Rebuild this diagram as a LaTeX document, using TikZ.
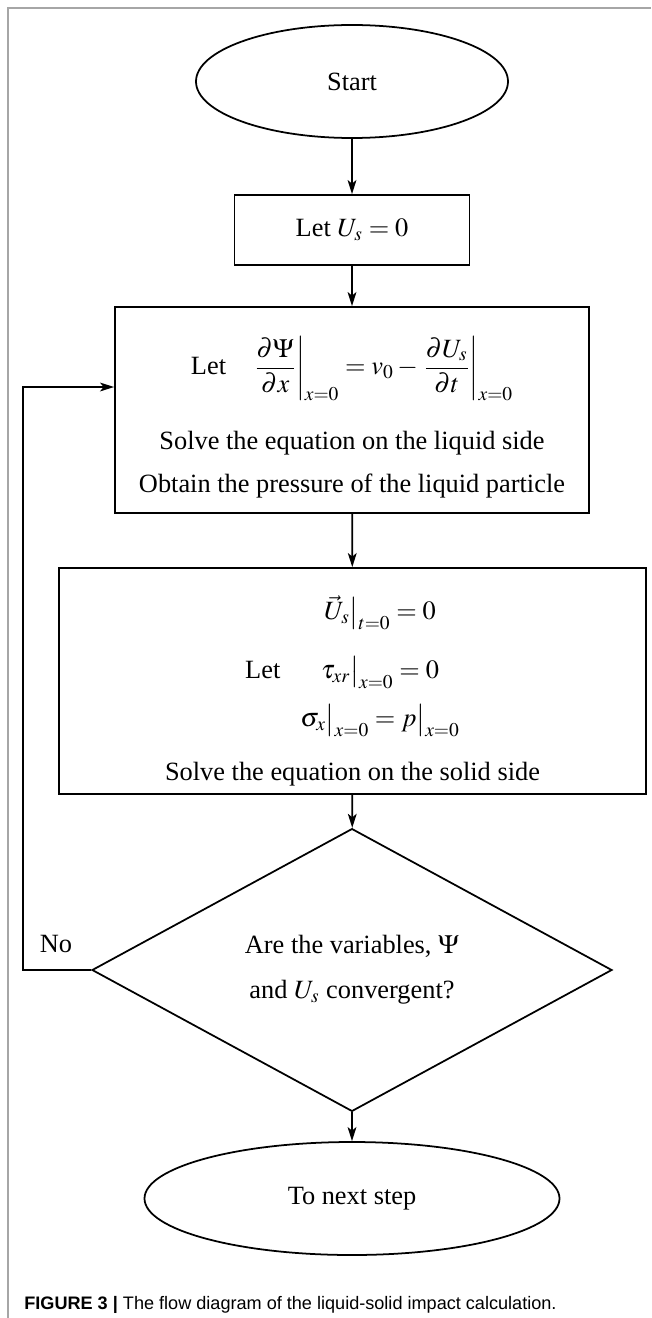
\documentclass[tikz,border=0pt]{standalone}
\usepackage{amsmath}
\usepackage{mathptmx}
\usepackage[no-math]{fontspec}
\setmainfont{Liberation Serif}
\newfontfamily\capfont{Liberation Sans}
\usepackage{tikz}
\usetikzlibrary{shapes.geometric, arrows.meta, positioning, calc}

\begin{document}
\begin{tikzpicture}[
            terminal/.style={ellipse, draw=black, line width=1pt, inner sep=0pt},
            process/.style={rectangle, draw=black, line width=1pt, align=center, inner sep=0pt},
            decision/.style={diamond, draw=black, line width=1pt, align=center, inner sep=0pt},
            flow/.style={->, line width=1pt},
            >={Stealth[length=8pt, width=5pt, inset=2pt]},
            font=\fontsize{15}{24.4}\selectfont
        ]
        \useasboundingbox (0,0) rectangle (13.02,-26.36);
        % frame of the figure
        \draw[gray!70, line width=0.6pt] (0.16,-26.36) -- (0.16,-0.16) -- (13.02,-0.16);

        % Start and first step
        \node[terminal, minimum width=6.24cm, minimum height=2.26cm] (start) at (7.04,-1.63) {Start};
        \node[process, minimum width=4.7cm, minimum height=1.4cm] (letUs) at (7.04,-4.6) {Let $U_s = 0$};

        % Liquid side
        \node[process, minimum width=9.48cm, minimum height=4.12cm] (liquid) at (7.04,-8.2)
            {\rule{0pt}{30pt}Let\quad$\left.\dfrac{\partial\Psi}{\partial x}\right|_{x=0} = v_0 - \left.\dfrac{\partial U_s}{\partial t}\right|_{x=0}$\\[16pt]
             Solve the equation on the liquid side\\
             Obtain the pressure of the liquid particle};

        % Solid side
        \node[process, minimum width=11.74cm, minimum height=4.52cm] (solid) at (7.05,-13.62)
            {$\begin{array}{@{}l@{\hspace{0.4cm}}c@{}}
                \rule{0pt}{25pt} & \vec{U}_s\big|_{t=0} = 0\\[9pt]
                \text{Let} & \tau_{xr}\big|_{x=0} = 0\\[3pt]
                & \sigma_x\big|_{x=0} = p\big|_{x=0}
             \end{array}$\\[12pt]
             Solve the equation on the solid side};

        % Convergence check and end
        \node[decision, minimum width=10.4cm, minimum height=4.22cm] (check) at (7.04,-19.4)
            {Are the variables, $\Psi$\\[1pt] and $U_s$ convergent?};
        \node[terminal, minimum width=8.3cm, minimum height=2.26cm] (next) at (7.04,-23.97) {To next step};
        \node (no) at (1.12,-18.88) {No};

        % Connections
        \draw[flow] (start) -- (letUs);
        \draw[flow] (letUs) -- (liquid);
        \draw[flow] (liquid) -- (solid);
        \draw[flow] (solid) -- (check);
        \draw[flow] (check) -- (next);
        \coordinate (back) at (0.46,-7.74);
        \draw[flow] (check.west) -| (back) -- (back -| liquid.west);

        % Caption
        \node[anchor=base west, inner sep=0pt, font=\capfont\fontsize{10.3}{12}\selectfont] (caption) at (0.48,-26.18)
            {\textbf{FIGURE 3 |} The flow diagram of the liquid-solid impact calculation.};
\end{tikzpicture}
\end{document}
